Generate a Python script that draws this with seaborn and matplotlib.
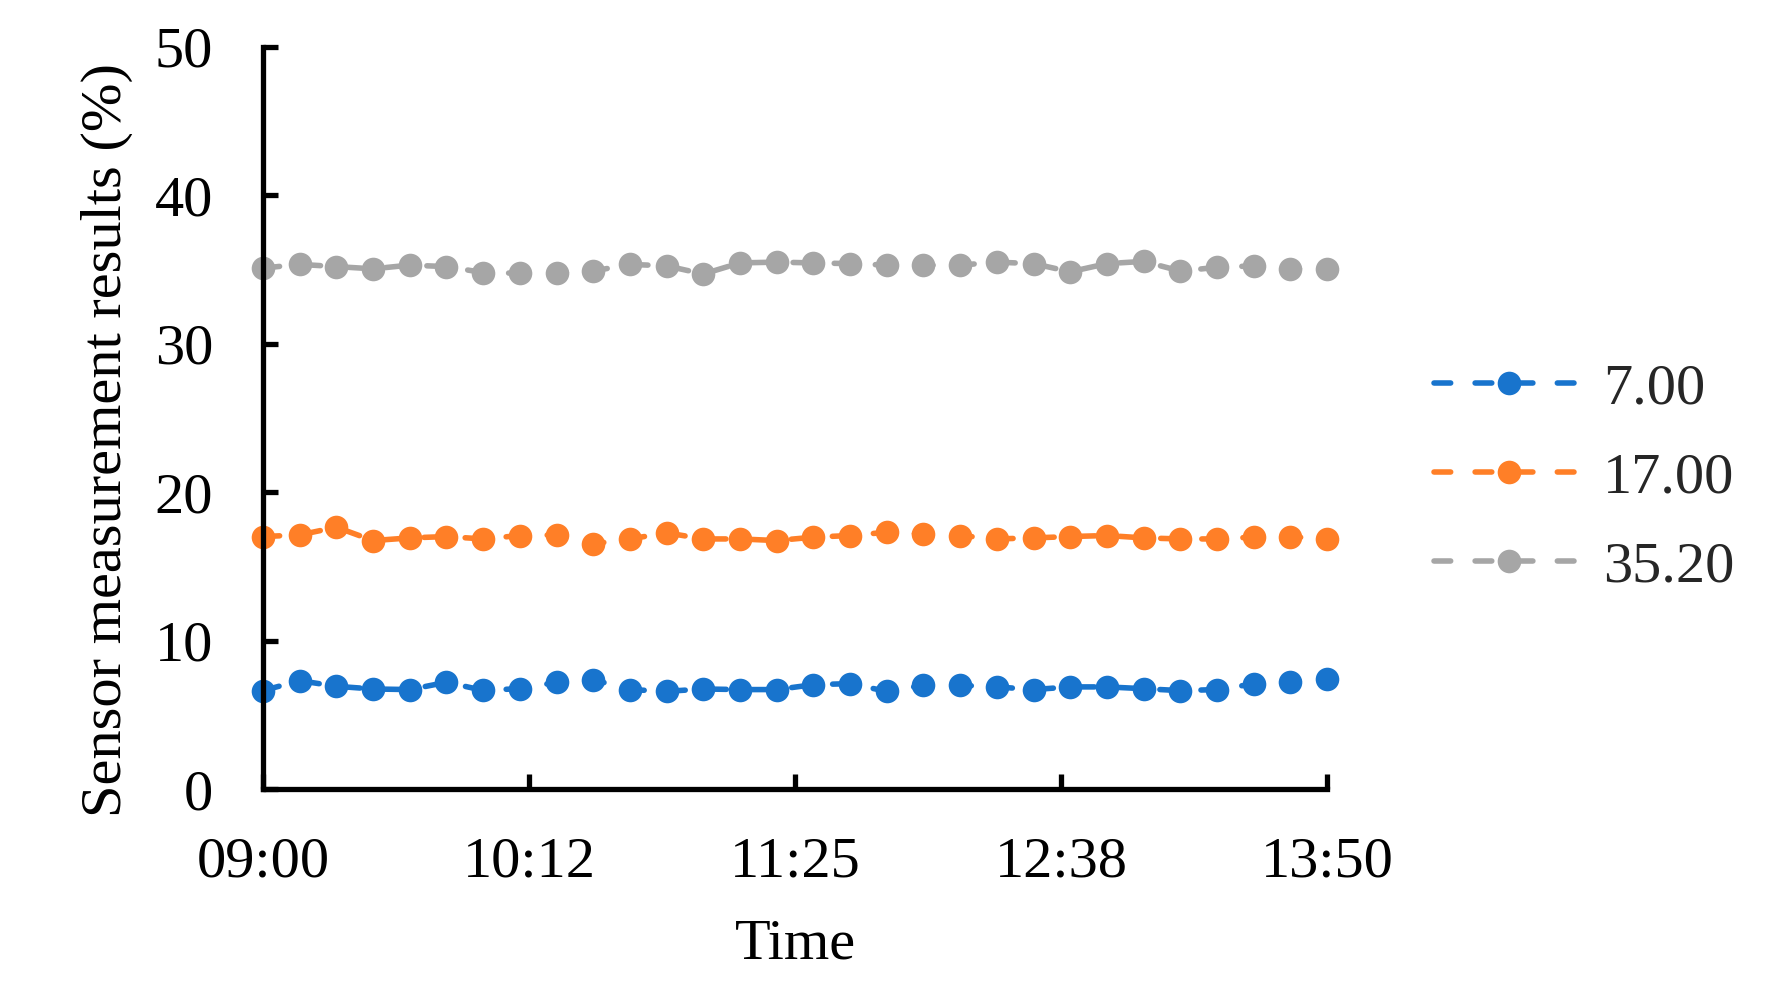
import seaborn as sns
import pandas as pd
import matplotlib.pyplot as plt

# readings every 10 minutes from 09:00 to 13:50
minutes = list(range(0, 300, 10))
series_names = ["7.00", "17.00", "35.20"]
vals_7 = [6.63, 7.30, 6.92, 6.74, 6.70, 7.19, 6.65, 6.76, 7.19, 7.37,
          6.70, 6.58, 6.74, 6.70, 6.70, 7.03, 7.10, 6.58, 6.99, 6.99,
          6.88, 6.70, 6.88, 6.88, 6.76, 6.63, 6.70, 7.08, 7.21, 7.44]
vals_17 = [17.01, 17.12, 17.64, 16.74, 16.92, 17.01, 16.85, 17.08, 17.12, 16.52,
           16.85, 17.26, 16.85, 16.85, 16.74, 16.97, 17.08, 17.30, 17.19, 17.08,
           16.85, 16.92, 17.01, 17.08, 16.92, 16.85, 16.85, 16.97, 17.01, 16.83]
vals_35 = [35.10, 35.35, 35.20, 35.05, 35.30, 35.20, 34.80, 34.75, 34.75, 34.90,
           35.35, 35.25, 34.70, 35.45, 35.50, 35.45, 35.40, 35.30, 35.30, 35.30,
           35.50, 35.40, 34.85, 35.40, 35.55, 34.90, 35.15, 35.25, 35.05, 35.05]
xtick_pos = [0, 72.5, 145, 217.5, 290]
xtick_labels = ["09:00", "10:12", "11:25", "12:38", "13:50"]
ytick_pos = [0, 10, 20, 30, 40, 50]

colors = ["#1874CD", "#FF7F27", "#A6A6A6"]

df = pd.concat([
    pd.DataFrame({"t": minutes, "value": v, "series": name})
    for name, v in zip(series_names, [vals_7, vals_17, vals_35])
])

sns.set_theme(style="white")
plt.rcParams["font.family"] = ["Liberation Serif", "DejaVu Serif"]
plt.rcParams["font.size"] = 42

fig = plt.figure(figsize=(17.72, 9.99), dpi=100)
ax = fig.add_axes([0.1484, 0.2102, 0.6005, 0.7428])

sns.lineplot(data=df, x="t", y="value", hue="series", style="series",
             palette=colors, dashes=[(3.0, 4.4)] * 3, markers=["o"] * 3,
             markersize=17, markeredgewidth=0, linewidth=4.0,
             dash_capstyle="round", legend=False, ax=ax, clip_on=False)

ax.set_xlim(0, 290)
ax.set_ylim(0, 50)
ax.set_xticks(xtick_pos)
ax.set_xticklabels(xtick_labels)
ax.set_yticks(ytick_pos)
ax.tick_params(axis="both", direction="in", length=11, width=3.8,
               colors="black", labelsize=42, bottom=True, left=True)
ax.tick_params(axis="y", pad=36)
ax.tick_params(axis="x", pad=34)

for s in ["top", "right"]:
    ax.spines[s].set_visible(False)
for s in ["left", "bottom"]:
    ax.spines[s].set_linewidth(3.8)
    ax.spines[s].set_color("black")

ax.set_xlabel("Time", fontsize=42, va="center", color="black")
ax.set_ylabel("Sensor measurement results (%)", fontsize=42, va="center",
              color="black")
ax.xaxis.set_label_coords(0.5, -0.21)
ax.yaxis.set_label_coords(-0.1466, 0.47)

ax.legend(handles=ax.lines[:3], labels=series_names, loc="center left",
          bbox_to_anchor=(0.809, 0.5215), bbox_transform=fig.transFigure,
          frameon=False, fontsize=42, handlelength=2.6, handletextpad=0.3,
          labelspacing=0.62, borderpad=0, borderaxespad=0, numpoints=1)

fig.savefig("out.png", dpi=100, facecolor="white")
